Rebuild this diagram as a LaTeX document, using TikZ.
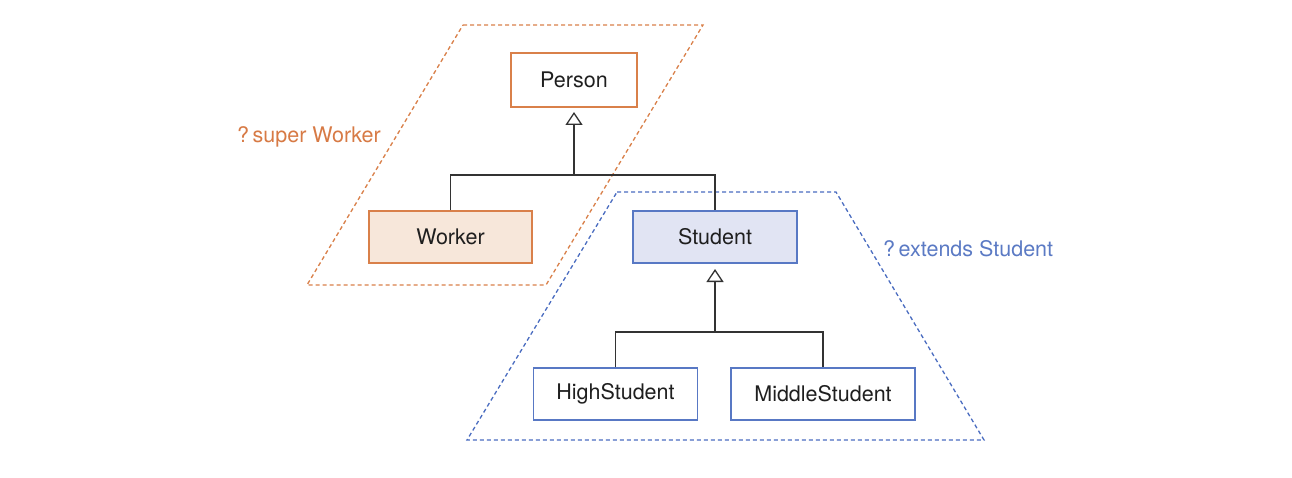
\documentclass[tikz,border=0pt]{standalone}
\usepackage{fontspec}
\setmainfont{TeX Gyre Heros}
\usetikzlibrary{arrows.meta}
\definecolor{orn}{HTML}{D9804A}
\definecolor{ornfill}{HTML}{F7E7DA}
\definecolor{blu}{HTML}{5878C4}
\definecolor{blufill}{HTML}{E1E4F3}
\definecolor{bluedash}{HTML}{4A6CC0}
\definecolor{orntext}{HTML}{D77A45}
\definecolor{blutext}{HTML}{5B7AC4}
\definecolor{ln}{HTML}{333333}
\tikzset{
  cls/.style={draw, line width=1.4pt, minimum height=52pt, inner sep=0pt,
    font=\fontsize{21.5}{26}\selectfont, text=black!88},
  obox/.style={cls, draw=orn},
  bbox/.style={cls, draw=blu},
  conn/.style={draw=ln, line width=1.3pt},
  region/.style={line width=1.3pt, dash pattern=on 4pt off 3pt},
  lbl/.style={font=\fontsize{21.5}{26}\selectfont, inner sep=0pt},
  inh/.style={-{Triangle[open, length=13pt, width=17pt]}}
}
\begin{document}
\begin{tikzpicture}[x=1pt,y=-1pt]
\useasboundingbox (0,0) rectangle (1292,478);
% regions
\draw[region, draw=orn] (463,25) -- (703,25) -- (546,285) -- (307,285) -- cycle;
\draw[region, draw=bluedash] (617,192) -- (836,192) -- (984,440) -- (467,440) -- cycle;
% classes
\node[obox, minimum width=126pt, minimum height=54pt] (person) at (574,80) {Person};
\node[obox, fill=ornfill, minimum width=163pt] (worker) at (450.5,237) {Worker};
\node[bbox, fill=blufill, minimum width=164pt] (student) at (715,237) {Student};
\node[bbox, fill=white, minimum width=164pt] (high) at (615.5,394) {HighStudent};
\node[bbox, fill=white, minimum width=184pt] (middle) at (823,394) {MiddleStudent};
% labels
\node[lbl, text=orntext, anchor=east] (superlbl) at (381,137) {?\,super Worker};
\node[lbl, text=blutext, anchor=west] (extlbl) at (883,249) {?\,extends Student};
% connectors
\coordinate (j1) at (574,175);
\coordinate (p1) at (574,112);
\coordinate (j2) at (715,332);
\coordinate (s1) at (715,269);
\draw[conn] (worker.north) |- (j1) -| (student.north);
\draw[conn, inh] (j1) -- (p1);
\draw[conn] (high.north) |- (j2) -| (middle.north);
\draw[conn, inh] (j2) -- (s1);
\end{tikzpicture}
\end{document}
